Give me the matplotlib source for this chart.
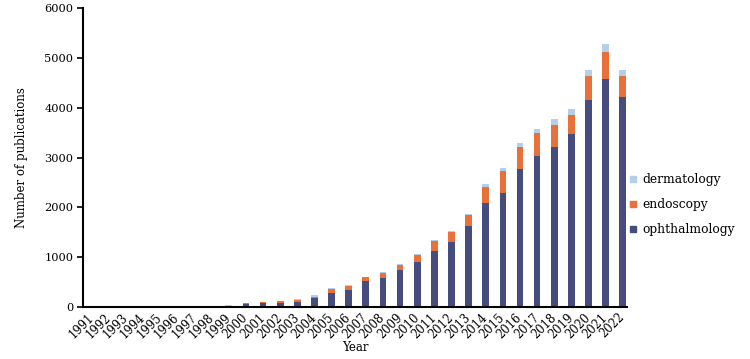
import matplotlib
matplotlib.use('Agg')
import matplotlib.pyplot as plt
from matplotlib.lines import Line2D
import numpy as np

plt.rcParams['font.family'] = 'DejaVu Serif'

# data
years = list(range(1991, 2023))
ophthalmology = [0, 0, 20, 0, 3, 3, 5, 5, 15, 60, 74, 87, 107, 175, 288, 348,
                 523, 589, 738, 905, 1126, 1300, 1628, 2084, 2297, 2768, 3021,
                 3216, 3471, 4147, 4583, 4215]
endoscopy = [0, 0, 3, 0, 15, 15, 3, 15, 5, 18, 22, 33, 41, 32, 68, 74,
             80, 94, 112, 146, 201, 214, 215, 334, 423, 434, 476,
             442, 388, 496, 528, 428]
dermatology = [0, 0, 2, 0, 2, 2, 0, 5, 30, 2, 4, 7, 7, 28, 20, 20,
               6, 14, 20, 21, 13, 5, 26, 54, 68, 88, 81,
               107, 121, 115, 161, 107]

c_oph = '#464C7E'
c_endo = '#E8703A'
c_derm = '#B4CFE9'

fig = plt.figure(figsize=(7.5, 3.59), dpi=100)
ax = fig.add_axes([0.1107, 0.1448, 0.7249, 0.8329])

x = np.arange(len(years))
oph = np.array(ophthalmology)
endo = np.array(endoscopy)
derm = np.array(dermatology)
w = 0.39
ax.bar(x, oph, width=w, color=c_oph)
ax.bar(x, endo, width=w, bottom=oph, color=c_endo)
ax.bar(x, derm, width=w, bottom=oph + endo, color=c_derm)

ax.set_xlim(-0.51, 31.23)
ax.set_ylim(0, 6000)
ax.set_yticks(range(0, 6001, 1000))
ax.set_xticks(x)
ax.set_xticklabels([str(y) for y in years], rotation=45, ha='right',
                   va='center', rotation_mode='anchor', fontsize=8.4)
ax.tick_params(axis='x', length=0, pad=6)
ax.tick_params(axis='y', length=4, width=1.2, labelsize=8.2, pad=3)

for s in ['top', 'right']:
    ax.spines[s].set_visible(False)
for s in ['left', 'bottom']:
    ax.spines[s].set_linewidth(1.5)

ax.set_xlabel('Year', fontsize=8.5, labelpad=0)
ax.set_ylabel('Number of publications', fontsize=8.5, labelpad=12)

handles = [Line2D([], [], ls='', marker='s', markersize=4.5, color=c)
           for c in (c_derm, c_endo, c_oph)]
fig.legend(handles, ['dermatology', 'endoscopy', 'ophthalmology'],
           loc='center left', bbox_to_anchor=(0.824, 0.43), frameon=False,
           fontsize=8.8, handlelength=0.6, handletextpad=0.5,
           labelspacing=1.0)

fig.savefig('out.png', dpi=100)
